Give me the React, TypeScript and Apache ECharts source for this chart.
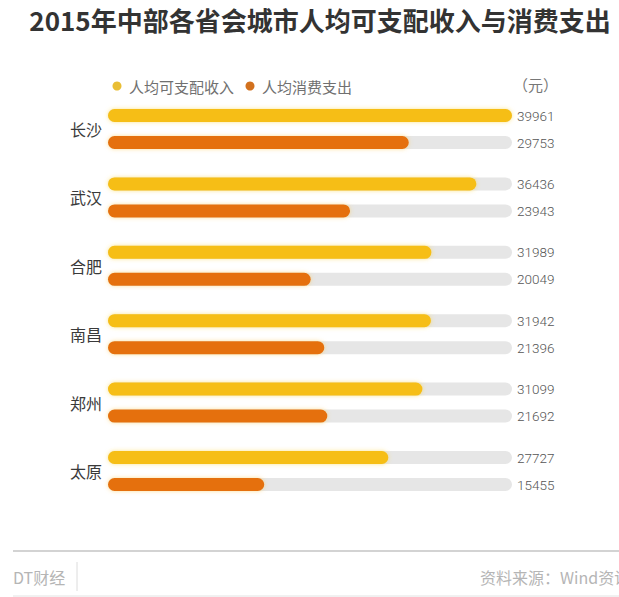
import React, { useEffect, useRef } from "react";
import * as echarts from "echarts";

const cities = ["长沙", "武汉", "合肥", "南昌", "郑州", "太原"];
const income = [39961, 36436, 31989, 31942, 31099, 27727];
const spend = [29753, 23943, 20049, 21396, 21692, 15455];
const seriesNames = ["人均可支配收入", "人均消费支出"];
const title = "2015年中部各省会城市人均可支配收入与消费支出";
const unit = "（元）";
const brand = "DT财经";
const source = "资料来源：Wind资讯";

const YELLOW = "#F6BE14";
const ORANGE = "#E5700E";
const GRAY = "#E6E6E6";

export default function App() {
  const ref = useRef<HTMLDivElement>(null);
  useEffect(() => {
    if (!ref.current) return;
    const chart = echarts.init(ref.current, undefined, { renderer: "svg" });
    const maxVal = Math.max(...income, ...spend);
    const barCommon = {
      type: "bar",
      barWidth: 13,
      barGap: "108%",
      showBackground: true,
      backgroundStyle: { color: GRAY, borderRadius: 6.5 },
    };
    chart.setOption({
      animation: false,
      backgroundColor: "#fff",
      grid: { left: 108, right: 107, top: 94.8, bottom: 91.8 },
      xAxis: {
        type: "value",
        min: 0,
        max: maxVal,
        show: false,
      },
      yAxis: [
        {
          type: "category",
          data: cities,
          inverse: true,
          axisLine: { show: false },
          axisTick: { show: false },
          axisLabel: {
            margin: 6,
            fontSize: 16,
            color: "#3a3a3a",
            fontFamily: "Noto Sans CJK SC",
          },
        },
        {
          type: "category",
          data: cities,
          inverse: true,
          position: "right",
          axisLine: { show: false },
          axisTick: { show: false },
          axisLabel: {
            margin: 5,
            fontSize: 13.5,
            lineHeight: 27,
            color: "#555",
            fontWeight: 300,
            fontFamily: "Roboto",
            formatter: (_v: string, i: number) => `${income[i]}\n${spend[i]}`,
          },
        },
      ],
      series: [
        {
          ...barCommon,
          name: seriesNames[0],
          data: income,
          itemStyle: {
            color: YELLOW,
            borderRadius: 6.5,
            shadowBlur: 4,
            shadowColor: "rgba(250,210,60,0.6)",
          },
        },
        {
          ...barCommon,
          name: seriesNames[1],
          data: spend,
          itemStyle: {
            color: ORANGE,
            borderRadius: 6.5,
            shadowBlur: 4,
            shadowColor: "rgba(250,200,80,0.6)",
          },
        },
      ],
      graphic: [
        {
          type: "text",
          x: 320,
          y: 19,
          style: {
            text: title,
            fontSize: 26,
            fontWeight: "bold",
            fill: "#333",
            align: "center",
            verticalAlign: "middle",
            fontFamily: "Noto Sans CJK SC",
          },
        },
        {
          type: "circle",
          shape: { cx: 117, cy: 86, r: 4.5 },
          style: { fill: "#E9BE35" },
        },
        {
          type: "text",
          x: 129,
          y: 86,
          style: {
            text: seriesNames[0],
            fontSize: 15,
            fill: "#707070",
            verticalAlign: "middle",
            fontFamily: "Noto Sans CJK SC",
          },
        },
        {
          type: "circle",
          shape: { cx: 250, cy: 86, r: 4.5 },
          style: { fill: "#D2711E" },
        },
        {
          type: "text",
          x: 262,
          y: 86,
          style: {
            text: seriesNames[1],
            fontSize: 15,
            fill: "#707070",
            verticalAlign: "middle",
            fontFamily: "Noto Sans CJK SC",
          },
        },
        {
          type: "text",
          x: 513,
          y: 84,
          style: {
            text: unit,
            fontSize: 15,
            fill: "#777",
            verticalAlign: "middle",
            fontFamily: "Noto Sans CJK SC",
          },
        },
        {
          type: "line",
          shape: { x1: 13, y1: 551, x2: 619, y2: 551 },
          style: { stroke: "#c4c4c4", lineWidth: 1.5 },
        },
        {
          type: "line",
          shape: { x1: 13, y1: 596, x2: 619, y2: 596 },
          style: { stroke: "#e2e2e2", lineWidth: 1 },
        },
        {
          type: "line",
          shape: { x1: 77, y1: 562, x2: 77, y2: 591 },
          style: { stroke: "#dcdcdc", lineWidth: 1 },
        },
        {
          type: "text",
          x: 13,
          y: 577,
          style: {
            text: brand,
            fontSize: 16,
            fill: "#b5b5b5",
            verticalAlign: "middle",
            fontFamily: "Noto Sans CJK SC",
          },
        },
        {
          type: "text",
          x: 480,
          y: 577,
          style: {
            text: source,
            fontSize: 16,
            fill: "#b5b5b5",
            verticalAlign: "middle",
            fontFamily: "Noto Sans CJK SC",
          },
        },
      ],
    });
    return () => chart.dispose();
  }, []);
  return (
    <div
      ref={ref}
      style={{ position: "fixed", left: 0, top: 0, width: 619, height: 597 }}
    />
  );
}
